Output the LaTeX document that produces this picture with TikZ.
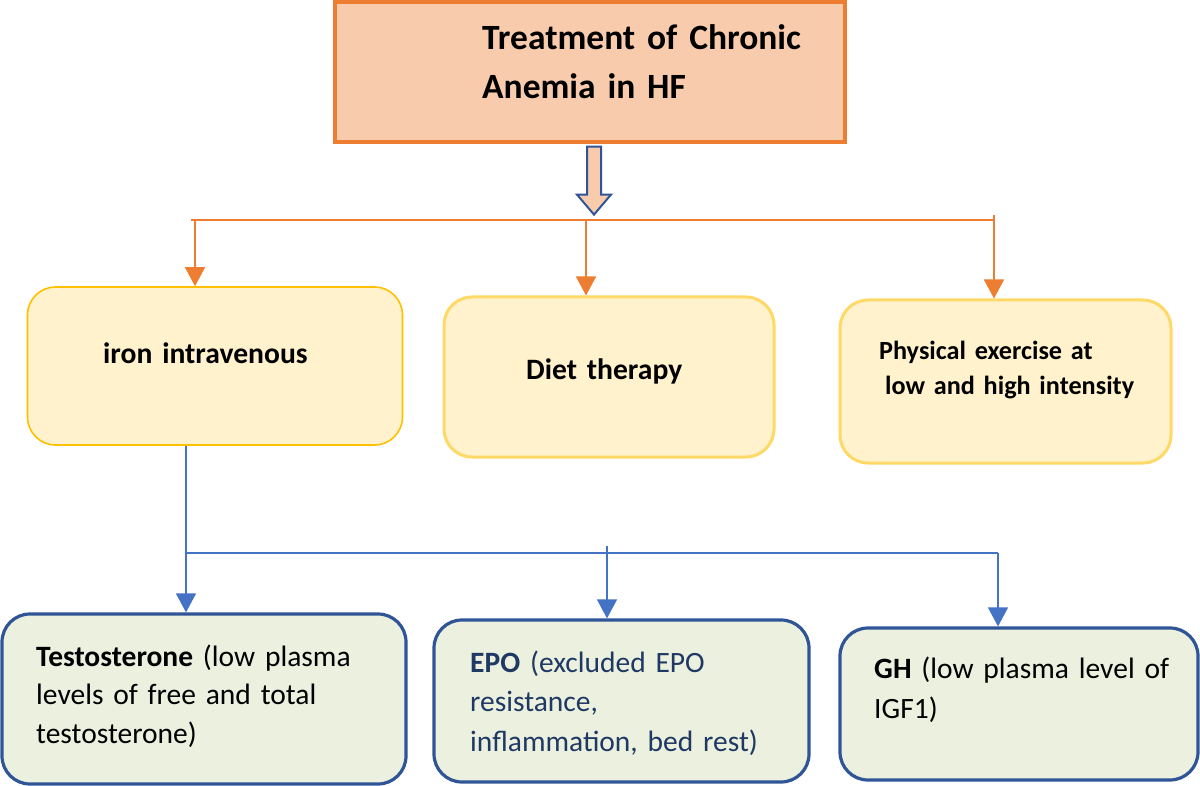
\documentclass[tikz,border=0pt]{standalone}
\usepackage{fontspec}
\setmainfont{Carlito}
\usepackage{tikz}
\usetikzlibrary{arrows.meta,calc}
\definecolor{rootfill}{HTML}{F8CBAD}
\definecolor{rootborder}{HTML}{ED7D31}
\definecolor{hollowblue}{HTML}{2F5597}
\definecolor{linkblue}{HTML}{4472C4}
\definecolor{therapyfill}{HTML}{FFF2CC}
\definecolor{therapyborder}{HTML}{FFD966}
\definecolor{ironborder}{HTML}{FFC000}
\definecolor{hormonefill}{HTML}{EBF1DE}
\definecolor{hormoneborder}{HTML}{2F5597}
\definecolor{epotext}{HTML}{1F3864}

\begin{document}
\begin{tikzpicture}[
  x=1pt, y=-1pt,
  rootbox/.style={
    draw=rootborder,
    fill=rootfill,
    line width=3.2pt,
    minimum width=510pt,
    minimum height=140pt,
    inner sep=0pt
  },
  therapybox/.style={
    draw=therapyborder,
    fill=therapyfill,
    rounded corners=28pt,
    line width=3pt,
    inner sep=0pt
  },
  hormonebox/.style={
    draw=hormoneborder,
    fill=hormonefill,
    rounded corners=28pt,
    line width=3.2pt,
    inner sep=0pt
  },
  boxtext/.style={
    inner sep=0pt,
    text width=340pt,
    align=left,
    anchor=base west
  },
  hollowarrow/.style={
    draw=hollowblue,
    fill=rootfill,
    line width=2pt,
    line join=miter
  },
  therapyline/.style={
    line width=1.5pt,
    draw=rootborder
  },
  therapyarrow/.style={
    -{Triangle[width=20pt,length=19pt]},
    line width=1.5pt,
    draw=rootborder
  },
  hormoneline/.style={
    line width=1.3pt,
    draw=linkblue
  },
  hormonearrow/.style={
    -{Triangle[width=20pt,length=19pt]},
    line width=1.3pt,
    draw=linkblue
  }
]

  \useasboundingbox (0,0) rectangle (1200,786);

  % Top box: the treatment
  \node[rootbox] (root) at (590,72) {};
  \node[boxtext, font=\fontsize{35.5}{49}\selectfont\bfseries] (roottext) at (482,50) {
    Treatment of Chronic\\Anemia in HF
  };

  % Hollow arrow down to the first branch line
  \draw[hollowarrow] ([xshift=-3pt,yshift=-3pt]root.south) -- ++(14,0) -- ++(0,48)
    -- ++(10,0) -- ++(-17,20) -- ++(-17,-20) -- ++(10,0) -- cycle;

  % --- MIDDLE ROW: therapies ---
  \node[therapybox, draw=ironborder, line width=1.6pt, minimum width=375pt, minimum height=158pt] (iron) at (215,366) {};
  \node[boxtext, font=\fontsize{29.6}{38}\selectfont\bfseries] (irontext) at (103,363) {iron intravenous};

  \node[therapybox, minimum width=330pt, minimum height=160pt] (diet) at (609,377) {};
  \node[boxtext, font=\fontsize{29.6}{38}\selectfont\bfseries] (diettext) at (526,380) {Diet therapy};

  \node[therapybox, minimum width=331pt, minimum height=163pt] (exercise) at (1005.5,381.5) {};
  \node[boxtext, font=\fontsize{26.2}{35}\selectfont\bfseries] (exercisetext) at (879,360) {
    Physical exercise at\\\hspace*{6pt}low and high intensity
  };

  % --- LOWER ROW: hormones ---
  \node[hormonebox, minimum width=404pt, minimum height=170pt] (testo) at (204,699) {};
  \node[boxtext, font=\fontsize{29.5}{38.5}\selectfont] (testotext) at (36,666) {
    \textbf{Testosterone} (low plasma\\levels of free and total\\testosterone)
  };

  \node[hormonebox, minimum width=375pt, minimum height=162pt] (epo) at (621.5,701) {};
  \node[boxtext, font=\fontsize{29.5}{39.5}\selectfont, text=epotext] (epotext) at (470,672) {
    \textbf{EPO} (excluded EPO\\resistance,\\inflammation, bed rest)
  };

  \node[hormonebox, minimum width=358pt, minimum height=152pt] (gh) at (1019,704) {};
  \node[boxtext, font=\fontsize{29.5}{40}\selectfont] (ghtext) at (874,678) {
    \textbf{GH} (low plasma level of\\IGF1)
  };

  % Branch lines
  \coordinate (therapysplit) at (594,220);
  \coordinate (hormonesplit) at (600,553);

  \draw[therapyline] ([xshift=-24pt]iron.north |- therapysplit) -- ([xshift=-11pt]exercise.north |- therapysplit);
  \draw[therapyarrow] ([xshift=-20pt]iron.north |- therapysplit) -- ([xshift=-20pt]iron.north);
  \draw[therapyarrow] ([xshift=-23pt]diet.north |- therapysplit) -- ([xshift=-23pt]diet.north);
  \draw[therapyarrow] ([xshift=-11.5pt,yshift=5pt]exercise.north |- therapysplit) -- ([xshift=-11.5pt]exercise.north);

  \draw[hormoneline] ([xshift=-29pt]iron.south) |- ([xshift=-21pt]gh.north |- hormonesplit);
  \draw[hormonearrow] ([xshift=-18pt]testo.north |- hormonesplit) -- ([xshift=-18pt]testo.north);
  \draw[hormonearrow] ([xshift=-14.5pt,yshift=7pt]epo.north |- hormonesplit) -- ([xshift=-14.5pt]epo.north);
  \draw[hormonearrow] ([xshift=-21pt]gh.north |- hormonesplit) -- ([xshift=-21pt]gh.north);

\end{tikzpicture}
\end{document}
